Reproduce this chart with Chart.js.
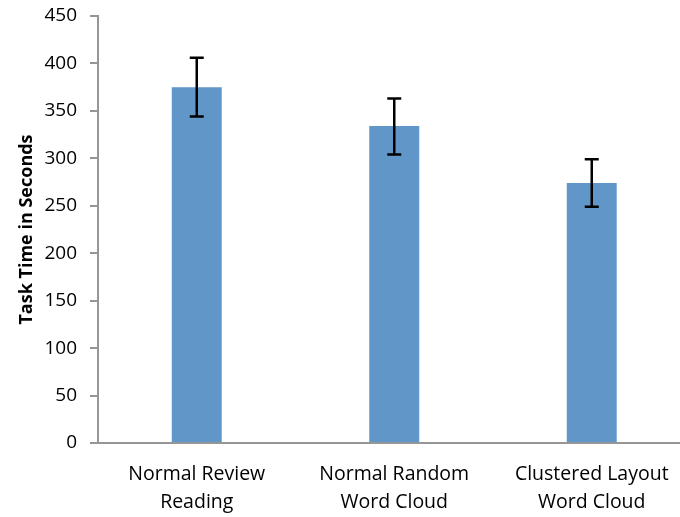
<!DOCTYPE html>
<html>
<head>
<meta charset="utf-8">
<script src="https://cdn.jsdelivr.net/npm/chart.js@4.4.1/dist/chart.umd.min.js"></script>
<style>
  html, body { margin: 0; padding: 0; background: #fff; overflow: hidden; }
  #wrap { width: 700px; height: 517px; }
</style>
</head>
<body>
<div id="wrap"><canvas id="taskChart" width="700" height="517"></canvas></div>
<script>
// data
const categories = [['Normal Review', 'Reading'], ['Normal Random', 'Word Cloud'], ['Clustered Layout', 'Word Cloud']];
const taskTimes = [375, 334, 274];
const errLow = [344, 304, 249];
const errHigh = [406, 363, 299];
const yTicks = [0, 50, 100, 150, 200, 250, 300, 350, 400, 450];

const axisGray = '#969696';

// Chart.js has no error bars, so draw them from the arrays above through the y scale
const errorBars = {
    id: 'errorBars',
    afterDatasetsDraw(chart) {
        const ctx = chart.ctx;
        const meta = chart.getDatasetMeta(0);
        const yScale = chart.scales.y;
        ctx.save();
        ctx.strokeStyle = '#000';
        ctx.lineWidth = 2.5;
        meta.data.forEach((bar, i) => {
            const x = bar.x;
            const yTop = yScale.getPixelForValue(errHigh[i]);
            const yBot = yScale.getPixelForValue(errLow[i]);
            ctx.beginPath();
            ctx.moveTo(x, yTop); ctx.lineTo(x, yBot);
            ctx.moveTo(x - 7, yTop); ctx.lineTo(x + 7, yTop);
            ctx.moveTo(x - 7, yBot); ctx.lineTo(x + 7, yBot);
            ctx.stroke();
        });
        ctx.restore();
    }
};

const ctx = document.getElementById('taskChart').getContext('2d');
new Chart(ctx, {
    type: 'bar',
    data: {
        labels: categories,
        datasets: [{
            label: 'Task Time',
            data: taskTimes,
            backgroundColor: '#6196c8',
            barPercentage: 1,
            categoryPercentage: 0.253
        }]
    },
    options: {
        responsive: false,
        animation: false,
        layout: { padding: { top: 16, right: 9.5, left: 0, bottom: 0 } },
        plugins: {
            legend: { display: false },
            tooltip: { enabled: false }
        },
        scales: {
            x: {
                grid: { display: false },
                border: { display: true, color: axisGray, width: 2 },
                ticks: {
                    color: '#000',
                    font: { family: 'Open Sans', size: 19.5, lineHeight: 1.4 },
                    padding: 10,
                    maxRotation: 0
                },
                afterFit(scale) { scale.height = 74; scale.paddingLeft = 0; scale.paddingRight = 0; }
            },
            y: {
                min: 0,
                max: 450,
                afterBuildTicks(scale) { scale.ticks = yTicks.map(v => ({ value: v })); },
                grid: { drawOnChartArea: false, drawTicks: true, tickLength: 8, color: axisGray, lineWidth: 2 },
                border: { display: true, color: axisGray, width: 2 },
                ticks: {
                    color: '#000',
                    font: { family: 'Open Sans', size: 19 },
                    padding: 13
                },
                title: {
                    display: true,
                    text: 'Task Time in Seconds',
                    color: '#000',
                    font: { family: 'Open Sans', size: 18, weight: 'bold' },
                    padding: { top: 16, bottom: 0 }
                },
                afterFit(scale) { scale.width = 98; scale.paddingTop = 0; scale.paddingBottom = 0; }
            }
        }
    },
    plugins: [errorBars]
});
</script>
</body>
</html>
